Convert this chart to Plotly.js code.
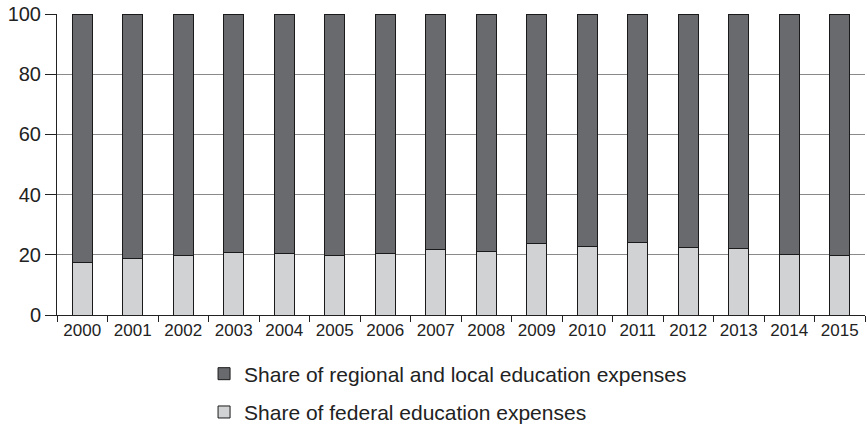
<!DOCTYPE html>
<html><head><meta charset="utf-8">
<script src="https://cdn.plot.ly/plotly-3.0.1.min.js"></script>
<style>html,body{margin:0;padding:0;background:#fff}#c{width:867px;height:424px}</style>
</head><body><div id="c"></div>
<script>
const years = ['2000','2001','2002','2003','2004','2005','2006','2007','2008','2009','2010','2011','2012','2013','2014','2015'];
const federal = [17.5,18.9,19.8,20.8,20.4,19.9,20.4,21.7,21.2,23.6,22.9,24.1,22.5,22.2,20.0,19.8];
const regional = federal.map(v => +(100 - v).toFixed(1));
const yTicks = [0,20,40,60,80,100];

const traces = [
  {type:'bar', x:years, y:federal, name:'Share of federal education expenses', legendgroup:'b', legendrank:2,
   marker:{color:'#d1d2d4', line:{color:'#1a1a1a', width:1}}},
  {type:'bar', x:years, y:regional, name:'Share of regional and local education expenses', legendgroup:'a', legendrank:1,
   marker:{color:'#696a6e', line:{color:'#1a1a1a', width:1}}}
];
const layout = {
  width:867, height:424, barmode:'stack', bargap:0.61,
  margin:{l:57, r:2, t:14, b:109, autoexpand:false},
  paper_bgcolor:'#fff', plot_bgcolor:'#fff',
  font:{family:'Liberation Sans, Arial, sans-serif', color:'#222'},
  xaxis:{type:'category', tickson:'boundaries', ticks:'outside', ticklen:6, tickcolor:'#222',
    showline:true, linecolor:'#222', linewidth:1, showgrid:false, tickfont:{size:17}},
  yaxis:{range:[0,100], tickvals:yTicks, ticks:'outside', ticklen:11, tickcolor:'#222',
    showline:true, linecolor:'#222', showgrid:true, gridcolor:'#8a8a8a', gridwidth:1,
    zeroline:false, tickfont:{size:20}},
  showlegend:true,
  legend:{orientation:'v', traceorder:'grouped', x:0.182, xanchor:'left', y:-0.128, yanchor:'top',
    font:{size:21}, tracegroupgap:8, itemwidth:30}
};
Plotly.newPlot('c', traces, layout, {displayModeBar:false, staticPlot:true});
</script></body></html>
